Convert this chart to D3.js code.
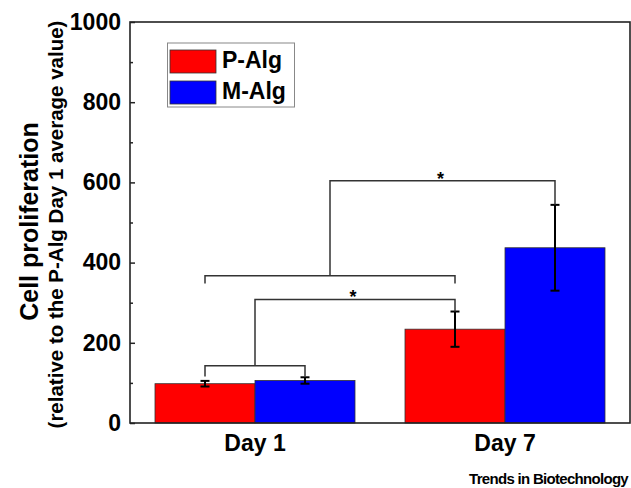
<!DOCTYPE html>
<html><head><meta charset="utf-8">
<script src="https://cdn.jsdelivr.net/npm/d3@7/dist/d3.min.js"></script>
<style>
html,body{margin:0;padding:0;background:#fff;}
svg{display:block;font-family:"Liberation Sans",Arial,sans-serif;}
</style></head>
<body>
<svg id="chart" width="631" height="488"></svg>
<script>
// ---- data ----
const categories = ["Day 1", "Day 7"];
const series = ["P-Alg", "M-Alg"];
const pAlgValues = [98, 234];
const mAlgValues = [106, 437];
const pAlgErrors = [7, 44];
const mAlgErrors = [8, 107];
const yTickValues = [0, 200, 400, 600, 800, 1000];
const yMinorTickValues = [100, 300, 500, 700, 900];
const seriesColors = ["#ff0000", "#0000ff"];
const yTitle = "Cell proliferation";
const ySubTitle = "(relative to the P-Alg Day 1 average value)";
const sourceNote = "Trends in Biotechnology";
// significance brackets: [category, series] endpoints, values for bar and legs
const sigBrackets = [
  { x1: ["Day 1", "P-Alg"], x2: ["Day 1", "M-Alg"], y: 143, legEnd: 116 },
  { x1: ["Day 1", "P-Alg"], x2: ["Day 7", "P-Alg"], y: 367, legEnd: 348 }
];
// links: from the centre of a bracket up, across, and down to a bar
const sigLinks = [
  { fromBracket: 0, top: 308, to: ["Day 7", "P-Alg"], toEnd: 278, label: "*" },
  { fromBracket: 1, top: 604, to: ["Day 7", "M-Alg"], toEnd: 544, label: "*" }
];

// ---- build ----
(function () {
const rows = categories.map((c, i) => ({
  category: c,
  values: [
    { series: series[0], value: pAlgValues[i], err: pAlgErrors[i] },
    { series: series[1], value: mAlgValues[i], err: mAlgErrors[i] }
  ]
}));

const svg = d3.select("#chart");
const pLeft = 130, pRight = 630, pTop = 22, pBottom = 423;

const x0 = d3.scaleBand().domain(categories).range([pLeft, pRight])
  .paddingInner(0.2).paddingOuter(0.1);
const x1 = d3.scaleBand().domain(series).range([0, x0.bandwidth()]);
const y = d3.scaleLinear().domain([0, 1000]).range([pBottom, pTop]);
const color = d3.scaleOrdinal().domain(series).range(seriesColors);
const cx = (c, s) => s == null ? x0(c) + x0.bandwidth() / 2 : x0(c) + x1(s) + x1.bandwidth() / 2;

// bars
const g = svg.append("g");
const groups = g.selectAll("g.grp").data(rows).join("g")
  .attr("transform", d => `translate(${x0(d.category)},0)`);
groups.selectAll("rect").data(d => d.values).join("rect")
  .attr("x", d => x1(d.series))
  .attr("y", d => y(d.value))
  .attr("width", x1.bandwidth())
  .attr("height", d => y(0) - y(d.value))
  .attr("fill", d => color(d.series))
  .attr("stroke", "#333")
  .attr("stroke-width", 0.8);

// error bars
const eb = groups.selectAll("g.eb").data(d => d.values).join("g")
  .attr("stroke", "#000").attr("stroke-width", 2);
eb.append("line")
  .attr("x1", d => x1(d.series) + x1.bandwidth() / 2)
  .attr("x2", d => x1(d.series) + x1.bandwidth() / 2)
  .attr("y1", d => y(d.value - d.err)).attr("y2", d => y(d.value + d.err));
eb.append("line")
  .attr("x1", d => x1(d.series) + x1.bandwidth() / 2 - 4.5)
  .attr("x2", d => x1(d.series) + x1.bandwidth() / 2 + 4.5)
  .attr("y1", d => y(d.value + d.err)).attr("y2", d => y(d.value + d.err));
eb.append("line")
  .attr("x1", d => x1(d.series) + x1.bandwidth() / 2 - 4.5)
  .attr("x2", d => x1(d.series) + x1.bandwidth() / 2 + 4.5)
  .attr("y1", d => y(d.value - d.err)).attr("y2", d => y(d.value - d.err));

// brackets
const sg = svg.append("g").attr("fill", "none").attr("stroke", "#333").attr("stroke-width", 1.5);
const bracketMid = sigBrackets.map(b => (cx(...b.x1) + cx(...b.x2)) / 2);
sigBrackets.forEach(b => {
  const xa = cx(...b.x1), xb = cx(...b.x2);
  sg.append("path").attr("d",
    `M${xa},${y(b.legEnd)}V${y(b.y)}H${xb}V${y(b.legEnd)}`);
});
sigLinks.forEach(l => {
  const b = sigBrackets[l.fromBracket];
  const xa = bracketMid[l.fromBracket], xb = cx(...l.to);
  sg.append("path").attr("d",
    `M${xa},${y(b.y)}V${y(l.top)}H${xb}V${y(l.toEnd)}`);
  svg.append("text").attr("x", (xa + xb) / 2 - 2).attr("y", y(l.top) + 4)
    .attr("text-anchor", "middle").attr("font-size", 18).attr("font-weight", "bold")
    .attr("fill", "#000").text(l.label);
});

// frame
svg.append("rect").attr("x", pLeft).attr("y", pTop)
  .attr("width", pRight - pLeft).attr("height", pBottom - pTop)
  .attr("fill", "none").attr("stroke", "#222").attr("stroke-width", 1.6);

// y axis
const yAxis = svg.append("g").attr("transform", `translate(${pLeft},0)`)
  .call(d3.axisLeft(y).tickValues(yTickValues).tickSize(-5).tickPadding(9)
    .tickFormat(d3.format("d")));
yAxis.select(".domain").remove();
yAxis.selectAll(".tick line").attr("stroke", "#222").attr("stroke-width", 1.5);
yAxis.selectAll("text").attr("font-size", 23).attr("font-weight", "bold")
  .attr("font-family", "'Liberation Sans',Arial,sans-serif").attr("fill", "#000");
const yMinor = svg.append("g").attr("transform", `translate(${pLeft},0)`)
  .call(d3.axisLeft(y).tickValues(yMinorTickValues).tickSize(-3).tickFormat(""));
yMinor.select(".domain").remove();
yMinor.selectAll(".tick line").attr("stroke", "#222").attr("stroke-width", 1.5);

// x labels
svg.append("g").selectAll("text").data(categories).join("text")
  .attr("x", d => cx(d, null)).attr("y", 451)
  .attr("text-anchor", "middle").attr("font-size", 23).attr("font-weight", "bold")
  .attr("fill", "#000").text(d => d);

// y titles
const midY = (pTop + pBottom) / 2;
svg.append("text").attr("transform", `translate(38,${midY - 1}) rotate(-90)`)
  .attr("text-anchor", "middle").attr("font-size", 25).attr("font-weight", "bold")
  .attr("fill", "#000").text(yTitle);
svg.append("text").attr("transform", `translate(63,${midY + 2}) rotate(-90)`)
  .attr("text-anchor", "middle").attr("font-size", 20.5).attr("font-weight", "bold")
  .attr("fill", "#000").text(ySubTitle);

// legend
const lg = svg.append("g");
lg.append("rect").attr("x", 167.5).attr("y", 43).attr("width", 127).attr("height", 64)
  .attr("fill", "#fff").attr("stroke", "#888").attr("stroke-width", 1);
series.forEach((s, i) => {
  lg.append("rect").attr("x", 170).attr("y", 50 + i * 31).attr("width", 46).attr("height", 23)
    .attr("fill", color(s)).attr("stroke", "#333").attr("stroke-width", 0.8);
  lg.append("text").attr("x", 222).attr("y", 67.5 + i * 31)
    .attr("font-size", 23).attr("font-weight", "bold").attr("fill", "#000").text(s);
});

// source note
svg.append("text").attr("x", 628).attr("y", 484).attr("text-anchor", "end")
  .attr("font-size", 15).attr("font-weight", "bold").attr("letter-spacing", -0.7)
  .attr("fill", "#000").text(sourceNote);
})();
</script>
</body></html>
